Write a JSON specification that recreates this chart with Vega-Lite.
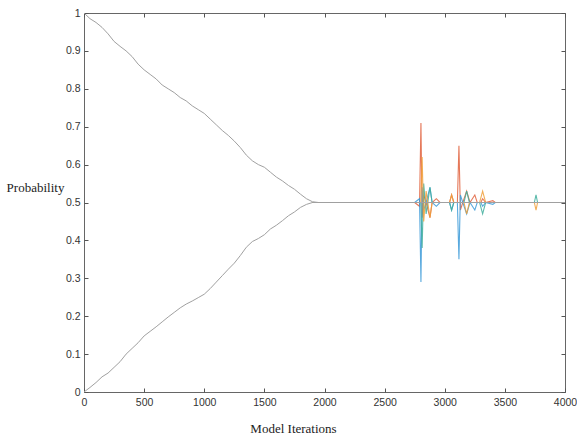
{
  "$schema": "https://vega.github.io/schema/vega-lite/v6.json",
  "width": 481,
  "height": 379,
  "autosize": {"type": "none"},
  "padding": {"left": 84, "top": 13, "right": 12, "bottom": 45},
  "background": "white",
  "config": {
    "view": {"stroke": "#666", "strokeWidth": 1},
    "axis": {
      "grid": false,
      "domain": false,
      "tickSize": 4,
      "offset": -4,
      "tickColor": "#555",
      "labelFont": "Liberation Sans",
      "labelFontSize": 10.5,
      "labelColor": "#333",
      "titleFont": "Liberation Serif",
      "titleFontSize": 13,
      "titleFontWeight": "normal",
      "titleColor": "#222"
    }
  },
  "datasets": {
    "gray": [
      {"s": "U", "x": 0, "y": 1.0}, {"s": "U", "x": 50, "y": 0.985}, {"s": "U", "x": 100, "y": 0.975}, {"s": "U", "x": 150, "y": 0.962},
      {"s": "U", "x": 200, "y": 0.945}, {"s": "U", "x": 250, "y": 0.925}, {"s": "U", "x": 300, "y": 0.912}, {"s": "U", "x": 350, "y": 0.9},
      {"s": "U", "x": 400, "y": 0.885}, {"s": "U", "x": 450, "y": 0.865}, {"s": "U", "x": 500, "y": 0.85}, {"s": "U", "x": 550, "y": 0.838},
      {"s": "U", "x": 600, "y": 0.826}, {"s": "U", "x": 650, "y": 0.81}, {"s": "U", "x": 700, "y": 0.8}, {"s": "U", "x": 750, "y": 0.79},
      {"s": "U", "x": 800, "y": 0.777}, {"s": "U", "x": 850, "y": 0.768}, {"s": "U", "x": 900, "y": 0.755}, {"s": "U", "x": 950, "y": 0.745},
      {"s": "U", "x": 1000, "y": 0.735}, {"s": "U", "x": 1050, "y": 0.72}, {"s": "U", "x": 1100, "y": 0.705}, {"s": "U", "x": 1150, "y": 0.69},
      {"s": "U", "x": 1200, "y": 0.677}, {"s": "U", "x": 1250, "y": 0.662}, {"s": "U", "x": 1300, "y": 0.645}, {"s": "U", "x": 1350, "y": 0.625},
      {"s": "U", "x": 1400, "y": 0.61}, {"s": "U", "x": 1450, "y": 0.6}, {"s": "U", "x": 1500, "y": 0.593}, {"s": "U", "x": 1550, "y": 0.58},
      {"s": "U", "x": 1600, "y": 0.567}, {"s": "U", "x": 1650, "y": 0.557}, {"s": "U", "x": 1700, "y": 0.545}, {"s": "U", "x": 1750, "y": 0.535},
      {"s": "U", "x": 1800, "y": 0.522}, {"s": "U", "x": 1850, "y": 0.51}, {"s": "U", "x": 1900, "y": 0.502}, {"s": "U", "x": 1950, "y": 0.5},
      {"s": "U", "x": 4000, "y": 0.5},
      {"s": "L", "x": 0, "y": 0.0}, {"s": "L", "x": 50, "y": 0.012}, {"s": "L", "x": 100, "y": 0.025}, {"s": "L", "x": 150, "y": 0.04},
      {"s": "L", "x": 200, "y": 0.05}, {"s": "L", "x": 250, "y": 0.065}, {"s": "L", "x": 300, "y": 0.08}, {"s": "L", "x": 350, "y": 0.1},
      {"s": "L", "x": 400, "y": 0.115}, {"s": "L", "x": 450, "y": 0.13}, {"s": "L", "x": 500, "y": 0.148}, {"s": "L", "x": 550, "y": 0.16},
      {"s": "L", "x": 600, "y": 0.172}, {"s": "L", "x": 650, "y": 0.185}, {"s": "L", "x": 700, "y": 0.198}, {"s": "L", "x": 750, "y": 0.21},
      {"s": "L", "x": 800, "y": 0.222}, {"s": "L", "x": 850, "y": 0.232}, {"s": "L", "x": 900, "y": 0.24}, {"s": "L", "x": 950, "y": 0.249},
      {"s": "L", "x": 1000, "y": 0.258}, {"s": "L", "x": 1050, "y": 0.273}, {"s": "L", "x": 1100, "y": 0.29}, {"s": "L", "x": 1150, "y": 0.307},
      {"s": "L", "x": 1200, "y": 0.324}, {"s": "L", "x": 1250, "y": 0.34}, {"s": "L", "x": 1300, "y": 0.36}, {"s": "L", "x": 1350, "y": 0.382},
      {"s": "L", "x": 1400, "y": 0.397}, {"s": "L", "x": 1450, "y": 0.405}, {"s": "L", "x": 1500, "y": 0.415}, {"s": "L", "x": 1550, "y": 0.43},
      {"s": "L", "x": 1600, "y": 0.44}, {"s": "L", "x": 1650, "y": 0.452}, {"s": "L", "x": 1700, "y": 0.465}, {"s": "L", "x": 1750, "y": 0.475},
      {"s": "L", "x": 1800, "y": 0.487}, {"s": "L", "x": 1850, "y": 0.495}, {"s": "L", "x": 1900, "y": 0.5}, {"s": "L", "x": 1950, "y": 0.5},
      {"s": "L", "x": 4000, "y": 0.5}
    ],
    "color": [
      {"s": "A", "x": 1900, "y": 0.5}, {"s": "A", "x": 2750, "y": 0.5}, {"s": "A", "x": 2790, "y": 0.49}, {"s": "A", "x": 2802, "y": 0.71},
      {"s": "A", "x": 2812, "y": 0.46}, {"s": "A", "x": 2825, "y": 0.52}, {"s": "A", "x": 2845, "y": 0.5}, {"s": "A", "x": 2877, "y": 0.46},
      {"s": "A", "x": 2895, "y": 0.5}, {"s": "A", "x": 2930, "y": 0.51}, {"s": "A", "x": 2960, "y": 0.5}, {"s": "A", "x": 3040, "y": 0.5},
      {"s": "A", "x": 3057, "y": 0.52}, {"s": "A", "x": 3075, "y": 0.5}, {"s": "A", "x": 3105, "y": 0.5}, {"s": "A", "x": 3118, "y": 0.65},
      {"s": "A", "x": 3130, "y": 0.48}, {"s": "A", "x": 3150, "y": 0.5}, {"s": "A", "x": 3182, "y": 0.53}, {"s": "A", "x": 3210, "y": 0.5},
      {"s": "A", "x": 3250, "y": 0.52}, {"s": "A", "x": 3270, "y": 0.5}, {"s": "A", "x": 3300, "y": 0.5}, {"s": "A", "x": 3315, "y": 0.51},
      {"s": "A", "x": 3340, "y": 0.5}, {"s": "A", "x": 3400, "y": 0.505}, {"s": "A", "x": 3420, "y": 0.5}, {"s": "A", "x": 4000, "y": 0.5},
      {"s": "B", "x": 1900, "y": 0.5}, {"s": "B", "x": 2750, "y": 0.5}, {"s": "B", "x": 2790, "y": 0.51}, {"s": "B", "x": 2802, "y": 0.29},
      {"s": "B", "x": 2812, "y": 0.54}, {"s": "B", "x": 2825, "y": 0.48}, {"s": "B", "x": 2845, "y": 0.5}, {"s": "B", "x": 2877, "y": 0.54},
      {"s": "B", "x": 2895, "y": 0.5}, {"s": "B", "x": 2930, "y": 0.49}, {"s": "B", "x": 2960, "y": 0.5}, {"s": "B", "x": 3040, "y": 0.5},
      {"s": "B", "x": 3057, "y": 0.48}, {"s": "B", "x": 3075, "y": 0.5}, {"s": "B", "x": 3105, "y": 0.5}, {"s": "B", "x": 3118, "y": 0.35},
      {"s": "B", "x": 3130, "y": 0.52}, {"s": "B", "x": 3150, "y": 0.5}, {"s": "B", "x": 3182, "y": 0.47}, {"s": "B", "x": 3210, "y": 0.5},
      {"s": "B", "x": 3250, "y": 0.48}, {"s": "B", "x": 3270, "y": 0.5}, {"s": "B", "x": 3300, "y": 0.5}, {"s": "B", "x": 3315, "y": 0.49},
      {"s": "B", "x": 3340, "y": 0.5}, {"s": "B", "x": 3400, "y": 0.495}, {"s": "B", "x": 3420, "y": 0.5}, {"s": "B", "x": 4000, "y": 0.5},
      {"s": "C", "x": 1900, "y": 0.5}, {"s": "C", "x": 2800, "y": 0.5}, {"s": "C", "x": 2812, "y": 0.38}, {"s": "C", "x": 2825, "y": 0.55},
      {"s": "C", "x": 2845, "y": 0.47}, {"s": "C", "x": 2877, "y": 0.54}, {"s": "C", "x": 2895, "y": 0.5}, {"s": "C", "x": 3040, "y": 0.5},
      {"s": "C", "x": 3057, "y": 0.48}, {"s": "C", "x": 3075, "y": 0.5}, {"s": "C", "x": 3160, "y": 0.5}, {"s": "C", "x": 3182, "y": 0.53},
      {"s": "C", "x": 3205, "y": 0.5}, {"s": "C", "x": 3290, "y": 0.5}, {"s": "C", "x": 3315, "y": 0.47}, {"s": "C", "x": 3340, "y": 0.5},
      {"s": "C", "x": 3745, "y": 0.5}, {"s": "C", "x": 3759, "y": 0.52}, {"s": "C", "x": 3772, "y": 0.5}, {"s": "C", "x": 4000, "y": 0.5},
      {"s": "D", "x": 1900, "y": 0.5}, {"s": "D", "x": 2800, "y": 0.5}, {"s": "D", "x": 2812, "y": 0.62}, {"s": "D", "x": 2825, "y": 0.45},
      {"s": "D", "x": 2845, "y": 0.53}, {"s": "D", "x": 2877, "y": 0.46}, {"s": "D", "x": 2895, "y": 0.5}, {"s": "D", "x": 3040, "y": 0.5},
      {"s": "D", "x": 3057, "y": 0.52}, {"s": "D", "x": 3075, "y": 0.5}, {"s": "D", "x": 3160, "y": 0.5}, {"s": "D", "x": 3182, "y": 0.47},
      {"s": "D", "x": 3205, "y": 0.5}, {"s": "D", "x": 3290, "y": 0.5}, {"s": "D", "x": 3315, "y": 0.53}, {"s": "D", "x": 3340, "y": 0.5},
      {"s": "D", "x": 3745, "y": 0.5}, {"s": "D", "x": 3759, "y": 0.48}, {"s": "D", "x": 3772, "y": 0.5}, {"s": "D", "x": 4000, "y": 0.5}
    ]
  },
  "layer": [
    {
      "data": {"name": "color"},
      "mark": {"type": "line", "strokeWidth": 1.1, "opacity": 0.85},
      "encoding": {
        "x": {"field": "x", "type": "quantitative", "scale": {"domain": [0, 4000], "nice": false},
          "axis": {"orient": "top", "values": [0, 500, 1000, 1500, 2000, 2500, 3000, 3500, 4000], "labels": false, "title": null}},
        "y": {"field": "y", "type": "quantitative", "scale": {"domain": [0, 1], "nice": false, "zero": false},
          "axis": {"orient": "right", "values": [0, 0.1, 0.2, 0.3, 0.4, 0.5, 0.6, 0.7, 0.8, 0.9, 1], "labels": false, "title": null}},
        "color": {"field": "s", "type": "nominal", "legend": null,
          "scale": {"domain": ["A", "B", "C", "D"], "range": ["#e0603c", "#3b9ad8", "#3fae9c", "#f0a03a"]}}
      }
    },
    {
      "data": {"name": "gray"},
      "mark": {"type": "line", "strokeWidth": 1, "interpolate": "linear"},
      "encoding": {
        "x": {"field": "x", "type": "quantitative",
          "axis": {"orient": "bottom", "values": [0, 500, 1000, 1500, 2000, 2500, 3000, 3500, 4000], "format": "d", "labelPadding": 5, "labelFlush": false,
            "title": "Model Iterations", "titleX": 209, "titleY": 34, "titleAnchor": null, "titleAlign": "center"}},
        "y": {"field": "y", "type": "quantitative",
          "axis": {"orient": "left", "values": [0, 0.1, 0.2, 0.3, 0.4, 0.5, 0.6, 0.7, 0.8, 0.9, 1], "format": "~g", "labelPadding": 4, "labelFlush": false,
            "title": "Probability", "titleAngle": 0, "titleX": -53, "titleY": 174, "titleAlign": "center", "titleBaseline": "middle", "titleAnchor": null}},
        "detail": {"field": "s", "type": "nominal"},
        "color": {"value": "#a0a0a0"}
      }
    }
  ],
  "resolve": {"axis": {"x": "independent", "y": "independent"}}
}
